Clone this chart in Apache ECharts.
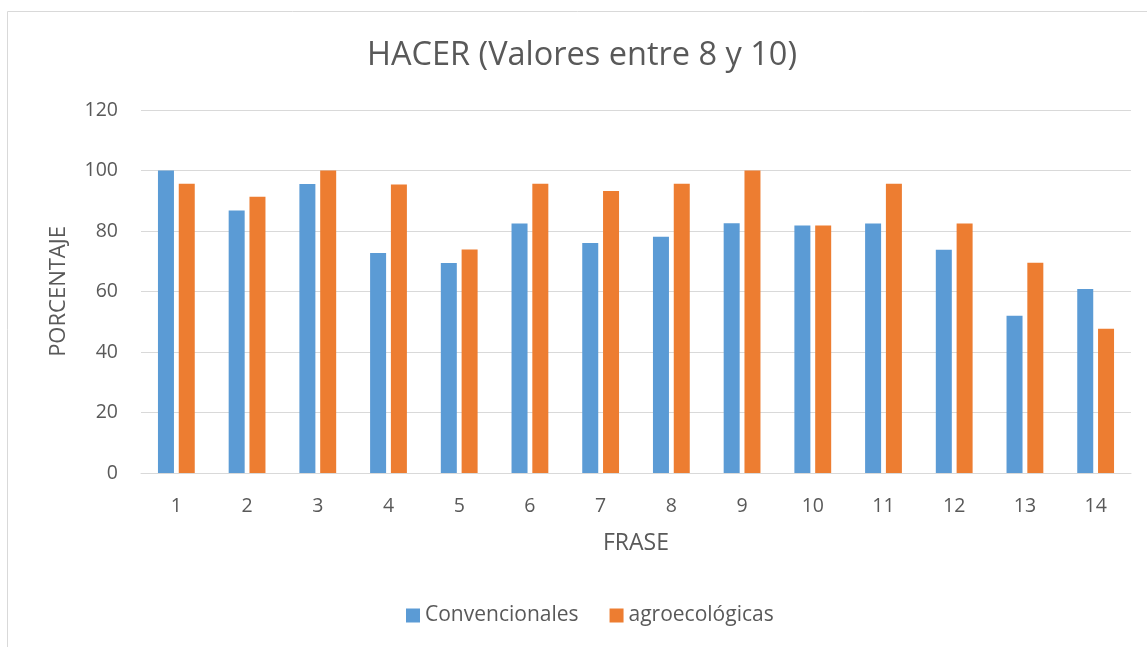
<!DOCTYPE html>
<html>
<head>
<meta charset="utf-8">
<script src="https://cdn.jsdelivr.net/npm/echarts@6/dist/echarts.min.js"></script>
<style>
  html, body { margin: 0; padding: 0; background: #fff; }
  #chart { width: 1147px; height: 647px; }
</style>
</head>
<body>
<div id="chart"></div>
<script>
// frases 1..14
var frases = ['1','2','3','4','5','6','7','8','9','10','11','12','13','14'];
// porcentaje con valores entre 8 y 10
var convencionales = [100, 86.8, 95.5, 72.7, 69.4, 82.5, 76.0, 78.1, 82.6, 81.8, 82.5, 73.8, 52.0, 60.8];
var agroecologicas = [95.6, 91.3, 100, 95.4, 73.9, 95.6, 93.2, 95.6, 100, 81.8, 95.6, 82.5, 69.5, 47.7];
var yMin = 0, yMax = 120, yStep = 20;

var font = 'Open Sans';
var grey = '#595959';

var chart = echarts.init(document.getElementById('chart'));
chart.setOption({
    animation: false,
    textStyle: { fontFamily: font },
    title: {
        text: 'HACER (Valores entre 8 y 10)',
        left: 362,
        top: 34,
        textStyle: { fontFamily: font, fontSize: 32.5, fontWeight: 'normal', color: grey }
    },
    graphic: [{
        type: 'rect',
        shape: { x: 7.5, y: 11.5, width: 1200, height: 700 },
        style: { fill: 'none', stroke: '#d9d9d9', lineWidth: 1 },
        silent: true
    }],
    legend: {
        bottom: 16,
        left: 401,
        itemWidth: 14,
        itemHeight: 14,
        itemGap: 31,
        icon: 'rect',
        textStyle: { fontFamily: font, fontSize: 21, color: grey },
        data: ['Convencionales', 'agroecológicas']
    },
    grid: { left: 141, right: 16, top: 110, bottom: 174 },
    xAxis: {
        type: 'category',
        data: frases,
        name: 'FRASE',
        nameLocation: 'middle',
        nameGap: 59,
        nameTextStyle: { fontFamily: font, fontSize: 23, color: grey },
        axisLine: { lineStyle: { color: '#d9d9d9', width: 1 } },
        axisTick: { show: false },
        axisLabel: { margin: 23, fontSize: 19.5, color: grey, fontFamily: font }
    },
    yAxis: {
        type: 'value',
        min: yMin,
        max: yMax,
        interval: yStep,
        name: 'PORCENTAJE',
        nameLocation: 'middle',
        nameGap: 71,
        nameTextStyle: { fontFamily: font, fontSize: 22, color: grey },
        axisLine: { show: false },
        axisTick: { show: false },
        axisLabel: { margin: 23, fontSize: 19.5, color: grey, fontFamily: font },
        splitLine: { lineStyle: { color: '#d9d9d9', width: 1 } }
    },
    series: [{
        name: 'Convencionales',
        type: 'bar',
        barWidth: 16,
        barGap: '30%',
        itemStyle: { color: '#5b9bd5' },
        data: convencionales
    }, {
        name: 'agroecológicas',
        type: 'bar',
        barWidth: 16,
        barGap: '30%',
        itemStyle: { color: '#ed7d31' },
        data: agroecologicas
    }]
});
</script>
</body>
</html>
